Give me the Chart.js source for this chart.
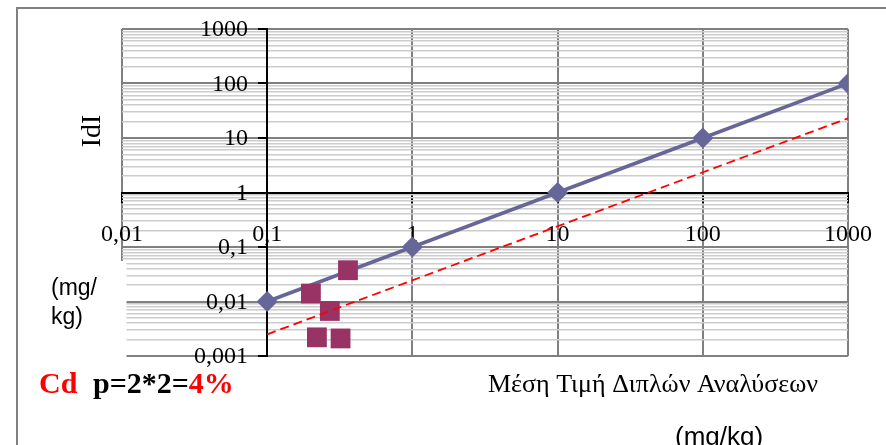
<!DOCTYPE html>
<html>
<head>
<meta charset="utf-8">
<title>Cd</title>
<script src="https://cdn.jsdelivr.net/npm/chart.js@4.4.1/dist/chart.umd.min.js"></script>
<style>
  html, body { margin: 0; padding: 0; background: #fff; }
  canvas { display: block; }
</style>
</head>
<body>
<canvas id="chart" width="886" height="445"></canvas>
<script>
// 1:1 reference line (diamonds)
const lineX = [0.1, 1, 10, 100, 1000];
const lineY = [0.01, 0.1, 1, 10, 100];

// Cd duplicate analyses (squares)
const cdX = [0.36, 0.2, 0.27, 0.22, 0.32];
const cdY = [0.0375, 0.014, 0.0067, 0.0022, 0.0021];

// dashed limit line
const limitX = [0.1, 1000];
const limitY = [0.0025, 23];

// axis decades
const xTicks = [0.01, 0.1, 1, 10, 100, 1000];
const yTicks = [0.001, 0.01, 0.1, 1, 10, 100, 1000];

const SERIF = "'Liberation Serif', 'Times New Roman', serif";
const SANS = "'Liberation Sans', Arial, sans-serif";

// minor ticks 2..9 inside every decade of the y axis
const yAllTicks = [];
yTicks.forEach((d, i) => {
  yAllTicks.push(d);
  if (i < yTicks.length - 1) {
    for (let m = 2; m <= 9; m++) yAllTicks.push(d * m);
  }
});

const toPoints = (xs, ys) => xs.map((x, i) => ({ x: x, y: ys[i] }));
const isDecade = (list, v) => list.some((d) => Math.abs(v / d - 1) < 1e-6);
const commaLabel = (v) => String(v).replace(".", ",");

// frame, y tick labels, titles and the Cd note
const decorations = {
  id: "decorations",
  afterDraw(chart) {
    const ctx = chart.ctx;
    const yScale = chart.scales.y;
    ctx.save();

    ctx.strokeStyle = "#808080";
    ctx.lineWidth = 2;
    ctx.beginPath();
    ctx.moveTo(17, 445);
    ctx.lineTo(17, 8);
    ctx.lineTo(886, 8);
    ctx.stroke();

    // unit label box sits over the lower left of the plot
    ctx.fillStyle = "#fff";
    ctx.fillRect(40, 261, 86.5, 97);

    // y labels hang left of the axis drawn at x = 0.1
    ctx.fillStyle = "#000";
    ctx.font = "24px " + SERIF;
    ctx.textAlign = "right";
    ctx.textBaseline = "middle";
    yTicks.forEach((v) => {
      ctx.fillText(commaLabel(v), 248, yScale.getPixelForValue(v) + 1);
    });

    ctx.textAlign = "left";
    ctx.textBaseline = "alphabetic";
    ctx.font = "23px " + SANS;
    ctx.fillText("(mg/", 51, 295);
    ctx.fillText("kg)", 51, 323.5);

    ctx.save();
    ctx.translate(100, 131);
    ctx.rotate(-Math.PI / 2);
    ctx.textAlign = "center";
    ctx.font = "28px " + SERIF;
    ctx.fillText("IdI", 0, 0);
    ctx.restore();

    ctx.font = "bold 30px " + SERIF;
    ctx.fillStyle = "#ff0000";
    ctx.fillText("Cd", 39, 393);
    let x = 93;
    ctx.fillStyle = "#000";
    ctx.fillText("p=2*2=", x, 393);
    x += ctx.measureText("p=2*2=").width;
    ctx.fillStyle = "#ff0000";
    ctx.fillText("4%", x, 393);

    ctx.fillStyle = "#000";
    ctx.font = "26px " + SERIF;
    ctx.fillText("Μέση Τιμή Διπλών Αναλύσεων", 488, 392);

    ctx.font = "26px " + SANS;
    ctx.fillText("(mg/kg)", 675, 445);

    ctx.restore();
  },
};

new Chart(document.getElementById("chart"), {
  type: "scatter",
  data: {
    datasets: [
      {
        data: toPoints(limitX, limitY),
        showLine: true,
        borderColor: "#ff0000",
        borderWidth: 1.8,
        borderDash: [9, 5],
        pointRadius: 0,
        order: 1,
      },
      {
        data: toPoints(cdX, cdY),
        showLine: false,
        pointStyle: "rect",
        pointRadius: 14,
        backgroundColor: "#993366",
        borderColor: "#993366",
        borderWidth: 0,
        order: 2,
      },
      {
        data: toPoints(lineX, lineY),
        showLine: true,
        borderColor: "#666699",
        borderWidth: 3.5,
        pointStyle: "rectRot",
        pointRadius: 10.5,
        backgroundColor: "#666699",
        pointBorderWidth: 0,
        order: 3,
      },
    ],
  },
  options: {
    responsive: false,
    animation: false,
    layout: {
      padding: { left: 122, top: 29, right: 38, bottom: 89 },
    },
    plugins: {
      legend: { display: false },
      tooltip: { enabled: false },
    },
    scales: {
      x: {
        type: "logarithmic",
        min: 0.01,
        max: 1000,
        position: { y: 1 },
        afterBuildTicks: (scale) => {
          scale.ticks = xTicks.map((v) => ({ value: v, major: true }));
        },
        grid: {
          color: "#808080",
          lineWidth: 2,
          tickLength: 9,
          tickColor: "#000",
          tickWidth: 2,
        },
        border: { color: "#000", width: 2 },
        ticks: {
          autoSkip: false,
          maxRotation: 0,
          padding: 13,
          color: "#000",
          font: { family: SERIF, size: 24, lineHeight: 1.65 },
          callback: (v) => commaLabel(v),
        },
      },
      y: {
        type: "logarithmic",
        min: 0.001,
        max: 1000,
        position: { x: 0.1 },
        afterBuildTicks: (scale) => {
          scale.ticks = yAllTicks.map((v) => ({ value: v, major: isDecade(yTicks, v) }));
        },
        grid: {
          color: (c) => (isDecade(yTicks, c.tick.value) ? "#808080" : "#cccccc"),
          lineWidth: (c) => (isDecade(yTicks, c.tick.value) ? 2 : 1.5),
          tickLength: 8,
          tickColor: (c) => (isDecade(yTicks, c.tick.value) ? "#000" : "rgba(0,0,0,0)"),
          tickWidth: 2,
        },
        border: { color: "#000", width: 2 },
        ticks: { display: false },
      },
    },
  },
  plugins: [decorations],
});
</script>
</body>
</html>
